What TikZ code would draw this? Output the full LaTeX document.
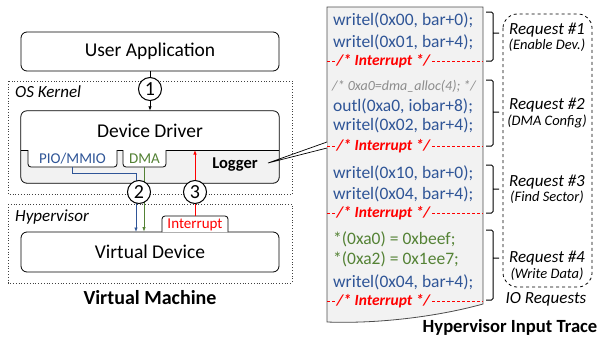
\documentclass[tikz,border=0pt]{standalone}
\usepackage{fontspec}
\setmainfont{Carlito}
\usetikzlibrary{arrows.meta}
\definecolor{cblue}{HTML}{2F5597}
\definecolor{cgreen}{HTML}{548235}
\definecolor{cred}{HTML}{FF0000}
\definecolor{cgray}{HTML}{F2F2F2}
\definecolor{ctxt}{HTML}{8C8C8C}
\newcommand\fs[1]{\fontsize{#1}{#1}\selectfont}
\begin{document}
\begin{tikzpicture}[x=1pt,y=-1pt,
  box/.style={draw, line width=0.8pt, rounded corners=6, minimum width=258, minimum height=#1, inner sep=0, font=\fs{19.5}},
  frame/.style={draw=black!75, dotted, line width=0.8pt},
  flbl/.style={anchor=west, font=\fs{17}\itshape, inner sep=0},
  tabline/.style={draw, fill=white, line width=0.8pt, rounded corners=3},
  arr/.style={line width=0.8pt, -{Latex[length=4.5pt,width=3.5pt]}},
  circ/.style={circle, draw, fill=white, line width=1pt, minimum size=23, inner sep=0, font=\fs{20}},
  code/.style={anchor=west, font=\fs{17.5}, text=cblue, inner sep=0},
  intr/.style={anchor=west, font=\fs{15.5}\bfseries\itshape, text=cred, fill=cgray, inner sep=1.5},
  idash/.style={draw=cred, line width=0.8pt, dash pattern=on 3pt off 2pt},
  brk/.style={draw, line width=1pt, rounded corners=1.5},
  req/.style={font=\fs{17}\itshape, inner sep=0},
  sub/.style={font=\fs{14.5}\itshape, inner sep=0},
  ttl/.style={font=\fs{20}\bfseries, inner sep=0}]
\useasboundingbox (0,0) rectangle (600,338);

% ---------- left: virtual machine ----------
\draw[frame] (8,81) rectangle (292,194);
\node[flbl] (oslbl) at (15,92) {OS Kernel};
\draw[frame] (8,204) rectangle (292,283);
\node[flbl] (hvlbl) at (15,217) {Hypervisor};

\node[box=39] (user) at (150,51.5) {User Application};

\node[minimum width=258, minimum height=72, inner sep=0] (driver) at (150,147) {};
\begin{scope}
  \clip (0,150) rectangle (300,190);
  \fill[cgray, rounded corners=6] (driver.north west) rectangle (driver.south east);
\end{scope}
\draw[line width=0.8pt, rounded corners=6] (driver.north west) rectangle (driver.south east);
\draw[line width=0.8pt] (driver.west |- 0,150) -- (driver.east |- 0,150);
\node[font=\fs{19.5}] (ddlbl) at (150,131) {Device Driver};

\draw[tabline] (28,150) -- (28,167) -- (117,167) -- (117,150);
\node[font=\fs{15}, text=cblue, inner sep=0] (pio) at (72.5,158.5) {PIO/MMIO};
\draw[tabline] (123,150) -- (123,167) -- (166,167) -- (166,150);
\node[font=\fs{15}, text=cgreen, inner sep=0] (dma) at (144.5,158.5) {DMA};
\node[font=\fs{16.5}\bfseries, inner sep=0] (logger) at (235,165) {Logger};

\node[box=40] (vdev) at (150,252) {Virtual Device};
\draw[tabline] (162,232) -- (162,216) -- (228,216) -- (228,232);
\node[font=\fs{15}, text=cred, inner sep=0] (intlbl) at (195,225) {Interrupt};

\coordinate (pioB) at (72,167);
\coordinate (dmaB) at (144,167);
\coordinate (intT) at (195,216);
\coordinate (divR) at (195,150);

\draw[arr] (user.south) -- (driver.north);
\node[circ] (c1) at (150,89) {1};
\draw[arr, cblue] (pioB) |- (136,173) -- (136,232);
\draw[arr, cgreen] (dmaB) -- (dmaB |- vdev.north);
\draw[arr, cred] (intT) -- (divR);
\node[circ] (c2) at (139,192) {2};
\node[circ] (c3) at (195,192) {3};

\node[ttl] (vm) at (150,298) {Virtual Machine};

% ---------- right: trace ----------
\draw[line width=0.8pt, draw=black!70, fill=cgray] (327,7) -- (483,7) -- (483,304)
   .. controls (440,316) and (380,324) .. (327,322) -- cycle;

\coordinate (logtip) at (268,163);
\draw[fill=white, line width=0.7pt] (327,142) -- (logtip) -- (327,148);

\node[code] (l1) at (333,20) {writel(0x00, bar+0);};
\node[code] (l2) at (333,42) {writel(0x01, bar+4);};
\node[code, font=\fs{14}\itshape, text=ctxt] (l3) at (332,86) {/* 0xa0=dma\_alloc(4); */};
\node[code] (l4) at (333,106) {outl(0xa0, iobar+8);};
\node[code] (l5) at (333,125) {writel(0x02, bar+4);};
\node[code] (l6) at (333,173) {writel(0x10, bar+0);};
\node[code] (l7) at (333,194) {writel(0x04, bar+4);};
\node[code, text=cgreen] (l8) at (333,239) {*(0xa0) = 0xbeef;};
\node[code, text=cgreen] (l9) at (333,259) {*(0xa2) = 0x1ee7;};
\node[code] (l10) at (333,282) {writel(0x04, bar+4);};

\foreach \yy/\nm in {61/i1,146/i2,213/i3,301/i4}{
  \draw[idash] (327,\yy) -- (483,\yy);
  \node[intr] (\nm) at (335,\yy) {/* Interrupt */};
}

\draw[brk] (486,12) -- (493,12) -- (493,61) -- (486,61) (493,33) -- (499,33);
\draw[brk] (486,80) -- (493,80) -- (493,146) -- (486,146) (493,112) -- (499,112);
\draw[brk] (486,165) -- (493,165) -- (493,213) -- (486,213) (493,189) -- (499,189);
\draw[brk] (486,230) -- (493,230) -- (493,300) -- (486,300) (493,258) -- (499,258);

\draw[dashed, line width=0.8pt, rounded corners=14] (503,14) rectangle (592,287);
\node[req] (r1) at (547,30) {Request \#1};
\node[sub] (s1) at (547,45) {(Enable Dev.)};
\node[req] (r2) at (547,105) {Request \#2};
\node[sub] (s2) at (547,121) {(DMA Config)};
\node[req] (r3) at (547,182) {Request \#3};
\node[sub] (s3) at (547,197) {(Find Sector)};
\node[req] (r4) at (547,258) {Request \#4};
\node[sub] (s4) at (547,274) {(Write Data)};
\node[req] (io) at (546,299) {IO Requests};

\node[ttl, font=\fs{18.6}\bfseries] (hit) at (510,327) {Hypervisor Input Trace};
\end{tikzpicture}
\end{document}
